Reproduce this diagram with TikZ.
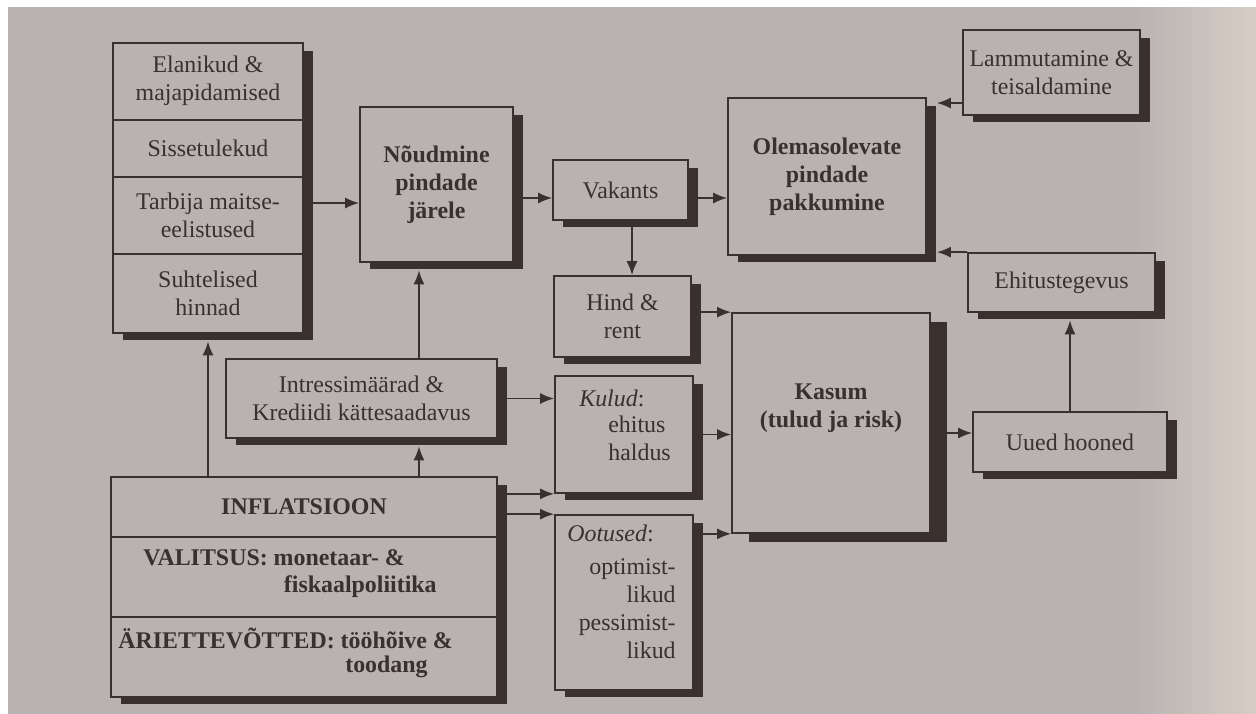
\documentclass[tikz,border=0pt]{standalone}
\usepackage{fontspec}
\setmainfont{Liberation Serif}
\usepackage{tikz}
\usetikzlibrary{arrows.meta, shadows}
\definecolor{page}{RGB}{184,178,178}
\definecolor{pageedge}{RGB}{214,205,196}
\definecolor{ink}{RGB}{58,48,46}
\pgfdeclarehorizontalshading{pagefade}{100bp}{color(0bp)=(page); color(70bp)=(page); color(75bp)=(pageedge); color(100bp)=(pageedge)}
\newcommand*{\boxfont}{\fontsize{13.6}{16}\selectfont}
\tikzstyle{block} = [rectangle, draw=ink, line width=1pt, fill=page, text=ink, font=\boxfont, align=center, inner sep=2pt]
\tikzstyle{box} = [block, drop shadow={shadow xshift=0.2cm, shadow yshift=-0.15cm, fill=ink, opacity=1}]
\tikzstyle{strong} = [font=\boxfont\bfseries]
\tikzstyle{txt} = [text=ink, font=\boxfont, align=center, inner sep=0pt]
\tikzstyle{link} = [-{Latex[length=2.8mm, width=2.2mm]}, color=ink, line width=1pt]
\tikzstyle{rule} = [draw=ink, line width=1pt]

\begin{document}
\begin{tikzpicture}[x=0.02cm, y=-0.02cm]
    % Page.
    \useasboundingbox (0,0) rectangle (1256,713);
    \fill [white] (0,0) rectangle (1256,713);
    \shade [shading=pagefade] (8,8) rectangle (1256,713);

    % Demand side.
    \node (demog) [box, minimum width=3.8cm, minimum height=5.8cm] at (208,188) {};
    \foreach \y in {120, 177, 254} {
        \draw [rule] (demog.west |- 0,\y) -- (demog.east |- 0,\y);
    }
    \node (residents) [txt] at (208,81) {Elanikud \&\\majapidamised};
    \node (income) [txt] at (208,148) {Sissetulekud};
    \node (taste) [txt] at (208,215) {Tarbija maitse-\\eelistused};
    \node (prices) [txt] at (208,293) {Suhtelised\\hinnad};

    \node (demand) [box, strong, minimum width=3.06cm, minimum height=3.1cm] at (436.5,184.5) {Nõudmine\\pindade\\järele};
    \node (vacancy) [box, minimum width=2.7cm, minimum height=1.2cm] at (620.5,190) {Vakants};
    \node (supply) [box, strong, minimum width=3.96cm, minimum height=3.14cm] at (827,176.5) {Olemasolevate\\pindade\\pakkumine};

    % Supply side.
    \node (demolition) [box, minimum width=3.54cm, minimum height=1.7cm] at (1051.5,72.5) {Lammutamine \&\\teisaldamine};
    \node (construction) [box, minimum width=3.74cm, minimum height=1.18cm] at (1061.5,282.5) {Ehitustegevus};
    \node (newbuild) [box, minimum width=3.88cm, minimum height=1.2cm] at (1070,442) {Uued hooned};

    % Profit and its inputs.
    \node (price) [box, minimum width=2.74cm, minimum height=1.62cm] at (622.5,316.5) {Hind \&\\rent};
    \node (costs) [box, minimum width=2.76cm, minimum height=2.34cm] at (624,434.5) {};
    \node (costhead) [txt, anchor=west] at (579,398) {\textit{Kulud}:};
    \node (costitems) [txt, align=left, anchor=west] at (608,438) {ehitus\\haldus};
    \node (expect) [box, minimum width=2.76cm, minimum height=3.5cm] at (624,602.5) {};
    \node (expecthead) [txt, anchor=west] at (567,533) {\textit{Ootused}:};
    \node (expectitems) [txt, align=right, anchor=east] at (676,609) {optimist-\\likud\\pessimist-\\likud};
    \node (profit) [block, minimum width=3.96cm, minimum height=4.4cm,
        drop shadow={shadow xshift=0.34cm, shadow yshift=-0.18cm, fill=ink, opacity=1}] at (831,423) {};
    \node (profittext) [txt, strong] at (831,408) {Kasum\\(tulud ja risk)};

    % Money and economy.
    \node (credit) [box, minimum width=5.42cm, minimum height=1.58cm] at (361.5,398.5) {Intressimäärad \&\\Krediidi kättesaadavus};
    \node (macro) [box, minimum width=7.72cm, minimum height=4.4cm] at (304,587) {};
    \foreach \y in {537, 617} {
        \draw [rule] (macro.west |- 0,\y) -- (macro.east |- 0,\y);
    }
    \node (inflation) [txt, strong] at (304,507) {INFLATSIOON};
    \node (gov1) [txt, strong, anchor=west] at (143,558) {VALITSUS: monetaar- \&};
    \node (gov2) [txt, strong, anchor=east] at (437,587) {fiskaalpoliitika};
    \node (firms1) [txt, strong, anchor=west] at (118,638) {ÄRIETTEVÕTTED: tööhõive \&};
    \node (firms2) [txt, strong, anchor=east] at (428,667) {toodang};

    % Arrows.
    \draw [link] (demog.east |- 0,203) -- (demand.west |- 0,203);
    \draw [link] (demand.east |- 0,198) -- (vacancy.west |- 0,198);
    \draw [link] (vacancy.east |- 0,198) -- (supply.west |- 0,198);
    \draw [link, shorten >=0.2cm] (demolition.west |- 0,103) -- (supply.east |- 0,103);
    \draw [link, shorten >=0.2cm] (construction.north west) -- (construction.north west -| supply.east);
    \draw [link, shorten >=0.15cm] (newbuild.north) -- (newbuild.north |- construction.south);
    \draw [link] (profit.east |- 0,433) -- (newbuild.west |- 0,433);
    \draw [link] (vacancy.south -| 632,0) -- (price.north -| 632,0);
    \draw [link] (price.east |- profit.north west) -- (profit.north west);
    \draw [link] (costs.east) -- (costs.east -| profit.west);
    \draw [link] (expect.east |- profit.south west) -- (profit.south west);
    \draw [link] (credit.east) -- (credit.east -| costs.west);
    \draw [link] (macro.east |- costs.south west) -- (costs.south west);
    \draw [link] (macro.east |- expect.north west) -- (expect.north west);
    \draw [link, shorten >=0.15cm] (macro.north -| 419,0) -- (credit.south -| 419,0);
    \draw [link, shorten >=0.15cm] (credit.north -| 419,0) -- (demand.south -| 419,0);
    \draw [link, shorten >=0.15cm] (macro.north -| demog.south) -- (demog.south);
\end{tikzpicture}
\end{document}
